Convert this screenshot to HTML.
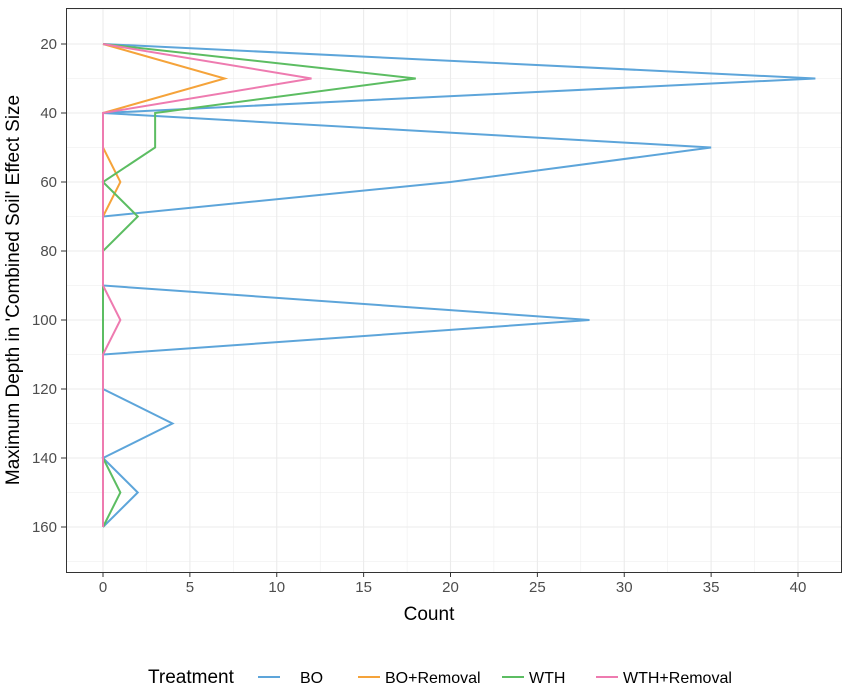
<!DOCTYPE html>
<html><head><meta charset="utf-8"><style>
body{margin:0;background:#fff;font-family:"Liberation Sans",Arial,sans-serif;}
</style></head><body>
<svg width="850" height="684" xmlns="http://www.w3.org/2000/svg" font-family="Liberation Sans, Arial, sans-serif">
<rect x="0" y="0" width="850" height="684" fill="#fff"/>
<g id="grid"></g>
<g id="series"></g>
<rect x="66.5" y="8.5" width="775" height="564" fill="none" stroke="#333" stroke-width="1"/>
<g id="axes"></g>
<text x="429" y="620" font-size="19" text-anchor="middle" fill="#000">Count</text>
<text transform="translate(19,290) rotate(-90)" font-size="19" text-anchor="middle" fill="#000">Maximum Depth in 'Combined Soil' Effect Size</text>
<g id="legend"></g>
</svg>
<script>
const depths=[20,30,40,50,60,70,80,90,100,110,120,130,140,150,160];
const seriesNames=["BO","BO+Removal","WTH","WTH+Removal"];
const boCounts=[0,41,0,35,20,0,0,0,28,0,0,4,0,2,0];
const boRemovalCounts=[0,7,0,0,1,0,0,0,0,0,0,0,0,0,0];
const wthCounts=[0,18,3,3,0,2,0,0,0,0,0,0,0,1,0];
const wthRemovalCounts=[0,12,0,0,0,0,0,0,1,0,0,0,0,0,0];
const xTicks=[0,5,10,15,20,25,30,35,40];
const yTicks=[20,40,60,80,100,120,140,160];
const colors=["#5DA5DA","#F5A33A","#5CBD62","#EE7BB0"];
const NS="http://www.w3.org/2000/svg";
const x=v=>103+v*(798-103)/40;
const y=v=>44+(v-20)*(527-44)/140;
function mk(tag,attrs,parent){const e=document.createElementNS(NS,tag);for(const k in attrs)e.setAttribute(k,attrs[k]);parent.appendChild(e);return e;}
const grid=document.getElementById('grid'),axes=document.getElementById('axes'),ser=document.getElementById('series'),leg=document.getElementById('legend');
for(let v=-2.5;v<=42.5;v+=2.5){const px=x(v);if(px<67||px>841)continue;const major=xTicks.includes(v);
 const l=mk('line',{x1:px,x2:px,y1:9,y2:572,stroke:'#ebebeb','stroke-width':major?1.1:0.5},grid);
 
 }
for(let v=10;v<=170;v+=10){const py=y(v);if(py<9||py>572)continue;const major=yTicks.includes(v);
 const l=mk('line',{x1:67,x2:841,y1:py,y2:py,stroke:'#ebebeb','stroke-width':major?1.1:0.5},grid);
 
 }
xTicks.forEach(v=>{mk('line',{x1:x(v),x2:x(v),y1:572,y2:577,stroke:'#333'},axes);
 const t=mk('text',{x:x(v),y:592,'font-size':15,'text-anchor':'middle',fill:'#4d4d4d'},axes);t.textContent=v;
 
 });
yTicks.forEach(v=>{mk('line',{x1:61,x2:66,y1:y(v),y2:y(v),stroke:'#333'},axes);
 const t=mk('text',{x:57,y:y(v)+5,'font-size':15,'text-anchor':'end',fill:'#4d4d4d'},axes);t.textContent=v;
 
 });
[boCounts,boRemovalCounts,wthCounts,wthRemovalCounts].forEach((arr,i)=>{
 const p=mk('polyline',{points:arr.map((c,j)=>x(c)+','+y(depths[j])).join(' '),fill:'none',stroke:colors[i],'stroke-width':2},ser);
 
 });
const lt=mk('text',{x:148,y:683,'font-size':19,fill:'#000'},leg);lt.textContent='Treatment';


const lx=[258,358,502,596];
const tx=[300,385,529,623];
seriesNames.forEach((n,i)=>{
 const g=mk('g',{},leg);
 
 
 mk('line',{x1:lx[i],x2:lx[i]+22,y1:677,y2:677,stroke:colors[i],'stroke-width':2},g);
 const t=mk('text',{x:tx[i],y:683,'font-size':16,fill:'#000'},g);t.textContent=n;});
</script>
</body></html>
